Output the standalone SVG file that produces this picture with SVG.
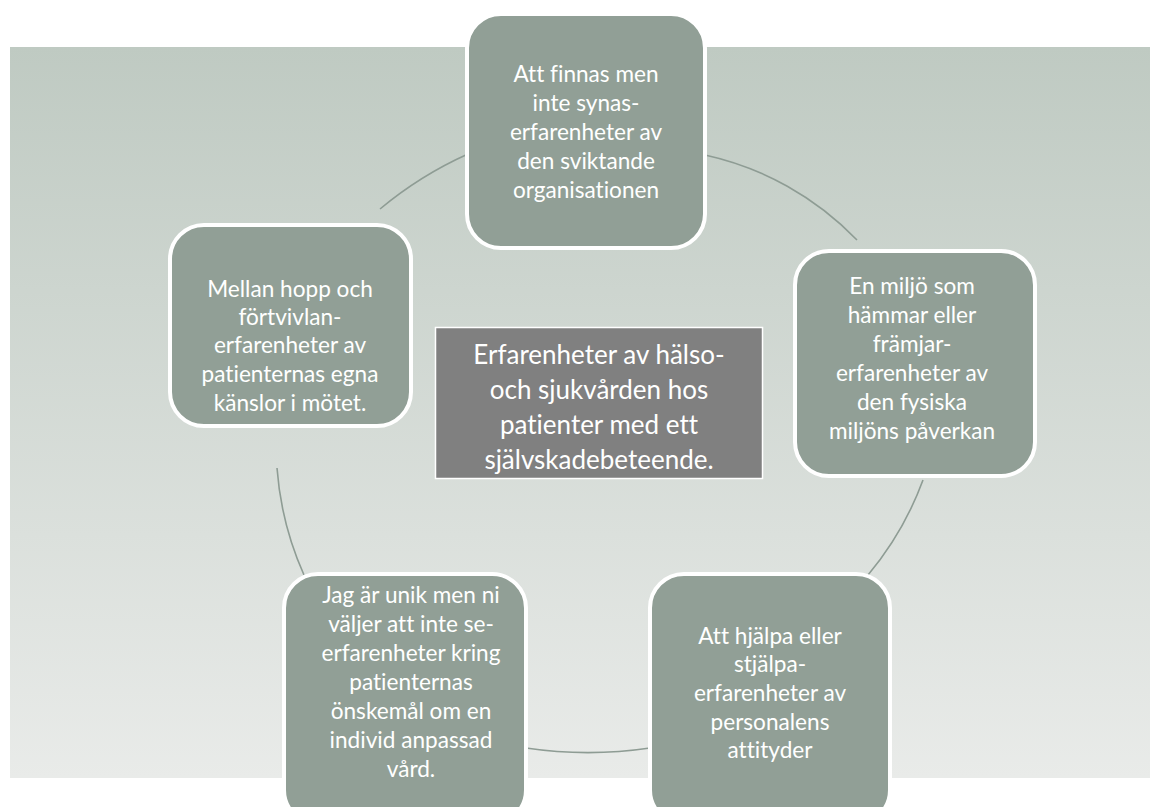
<svg xmlns="http://www.w3.org/2000/svg" width="1152" height="807" viewBox="0 0 1152 807">
<defs>
<linearGradient id="bg" x1="0" y1="0" x2="0" y2="1">
<stop offset="0" stop-color="#bfcac2"/>
<stop offset="1" stop-color="#e9ebe9"/>
</linearGradient>
<clipPath id="cc"><rect x="436" y="328" width="326" height="150"/></clipPath>
</defs>
<style>
.node{fill:#919f96;stroke:#ffffff;stroke-width:4}
.t{fill:#ffffff;font-family:Lato,"Open Sans","Liberation Sans",sans-serif;font-size:22.6px;text-anchor:middle;font-variant-ligatures:none}
.ct{fill:#ffffff;font-family:Lato,"Open Sans","Liberation Sans",sans-serif;font-size:26px;text-anchor:middle;font-variant-ligatures:none}
.arc{fill:none;stroke:#8e9c94;stroke-width:1.6}
</style>
<rect x="10" y="47" width="1140" height="731" fill="url(#bg)"/>
<g id="connectors">
<path class="arc" d="M380,209 A 380 380 0 0 1 468,154"/>
<path class="arc" d="M705,155 A 300 300 0 0 1 857,240"/>
<path class="arc" d="M923,480 A 320 320 0 0 1 868,575"/>
<path class="arc" d="M650,748 A 420 420 0 0 1 526,748"/>
<path class="arc" d="M304,575 A 320 320 0 0 1 277,468"/>
</g>
<g id="node-top">
<rect class="node" x="467" y="14" width="238" height="234" rx="34"/>
<text class="t"><tspan x="586" y="82">Att finnas men</tspan><tspan x="586" y="111">inte synas-</tspan><tspan x="586" y="140">erfarenheter av</tspan><tspan x="586" y="169">den sviktande</tspan><tspan x="586" y="198">organisationen</tspan></text>
</g>
<g id="node-left">
<rect class="node" x="170" y="225" width="241" height="201" rx="34"/>
<text class="t"><tspan x="290" y="297">Mellan hopp och</tspan><tspan x="290" y="325">förtvivlan-</tspan><tspan x="290" y="353">erfarenheter av</tspan><tspan x="290" y="382">patienternas egna</tspan><tspan x="290" y="411">känslor i mötet.</tspan></text>
</g>
<g id="node-right">
<rect class="node" x="795" y="251" width="240" height="225" rx="34"/>
<text class="t"><tspan x="912" y="294">En miljö som</tspan><tspan x="912" y="323">hämmar eller</tspan><tspan x="912" y="352">främjar-</tspan><tspan x="912" y="381">erfarenheter av</tspan><tspan x="912" y="410">den fysiska</tspan><tspan x="912" y="439">miljöns påverkan</tspan></text>
</g>
<g id="node-bottom-left">
<rect class="node" x="284" y="574" width="242" height="250" rx="34"/>
<text class="t"><tspan x="411" y="603">Jag är unik men ni</tspan><tspan x="411" y="632">väljer att inte se-</tspan><tspan x="411" y="661">erfarenheter kring</tspan><tspan x="411" y="690">patienternas</tspan><tspan x="411" y="719">önskemål om en</tspan><tspan x="411" y="748">individ anpassad</tspan><tspan x="411" y="777">vård.</tspan></text>
</g>
<g id="node-bottom-right">
<rect class="node" x="650" y="574" width="240" height="250" rx="34"/>
<text class="t"><tspan x="770" y="644">Att hjälpa eller</tspan><tspan x="770" y="672">stjälpa-</tspan><tspan x="770" y="701">erfarenheter av</tspan><tspan x="770" y="730">personalens</tspan><tspan x="770" y="758">attityder</tspan></text>
</g>
<g id="node-center">
<rect x="435.5" y="327.5" width="327" height="151" fill="#808080" stroke="#ffffff" stroke-width="1.5"/>
<text class="ct" clip-path="url(#cc)"><tspan x="599" y="364">Erfarenheter av hälso-</tspan><tspan x="599" y="399">och sjukvården hos</tspan><tspan x="599" y="434">patienter med ett</tspan><tspan x="599" y="469">självskadebeteende.</tspan></text>
</g>
</svg>
